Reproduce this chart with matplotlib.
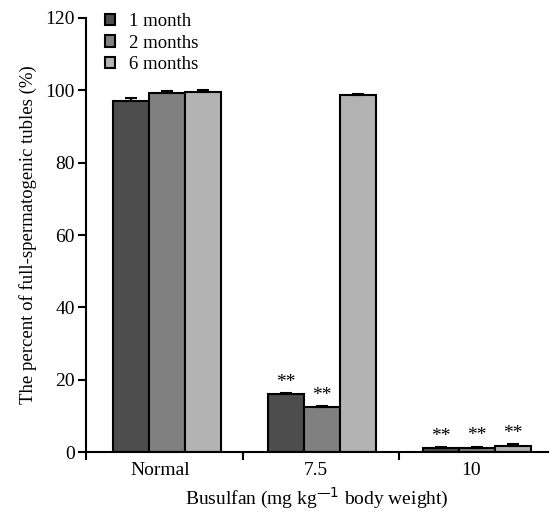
import numpy as np
import matplotlib.pyplot as plt

plt.rcParams['font.family'] = ['Liberation Serif', 'DejaVu Serif']

# data
groups = ["Normal", "7.5", "10"]
series = ["1 month", "2 months", "6 months"]
m1 = [97.0, 16.0, 1.1]
m2 = [99.2, 12.5, 1.2]
m6 = [99.6, 98.6, 1.7]
e1 = [0.9, 0.4, 0.3]
e2 = [0.5, 0.3, 0.3]
e6 = [0.6, 0.5, 0.5]
stars1 = ["", "**", "**"]
stars2 = ["", "**", "**"]
stars6 = ["", "", "**"]
colors = ["#4d4d4d", "#808080", "#b3b3b3"]

fig = plt.figure(figsize=(5.53, 5.12), dpi=100)
ax = fig.add_axes([0.1555, 0.117, 0.836, 0.848])

x = np.arange(len(groups))
w = 0.232
shift = 0.04
for i, (vals, errs, st) in enumerate(zip([m1, m2, m6], [e1, e2, e6], [stars1, stars2, stars6])):
    xp = x + shift + (i - 1) * w
    ax.bar(xp, vals, w, color=colors[i], edgecolor="black", linewidth=1.5,
           label=series[i], zorder=2)
    ax.errorbar(xp, vals, yerr=[np.zeros(len(errs)), errs], fmt="none",
                ecolor="black", elinewidth=1.5, capsize=4, capthick=1.5, zorder=3)
    for xx, v, e, s in zip(xp, vals, errs, st):
        if s:
            ax.text(xx, v + e + 0.6, s, ha="center", va="bottom", fontsize=14)

ax.set_xlim(-0.48, 2.5)
ax.set_ylim(0, 120)
ax.set_yticks(range(0, 121, 20))
ax.set_xticks(x)
ax.set_xticklabels(groups)
ax.set_xticks([-0.48, 0.53, 1.535], minor=True)
ax.tick_params(axis="x", which="major", length=0, pad=7, labelsize=14)
ax.tick_params(axis="x", which="minor", length=6, width=1.5, direction="out")
ax.tick_params(axis="y", length=6, width=1.5, direction="out", labelsize=14, pad=2)

for s in ["top", "right"]:
    ax.spines[s].set_visible(False)
for s in ["left", "bottom"]:
    ax.spines[s].set_linewidth(1.5)

ax.set_ylabel("The percent of full-spermatogenic tubles (%)", fontsize=13.5, labelpad=6)
ax.set_xlabel("Busulfan (mg kg$^{\\mathregular{\u2014}1}$ body weight)", fontsize=14, labelpad=5)

ax.legend(loc="upper left", bbox_to_anchor=(0.005, 1.05), frameon=False, fontsize=13.5,
          handlelength=0.55, handleheight=0.55, handletextpad=0.7, labelspacing=0.25)

fig.savefig("out.png", dpi=100)
